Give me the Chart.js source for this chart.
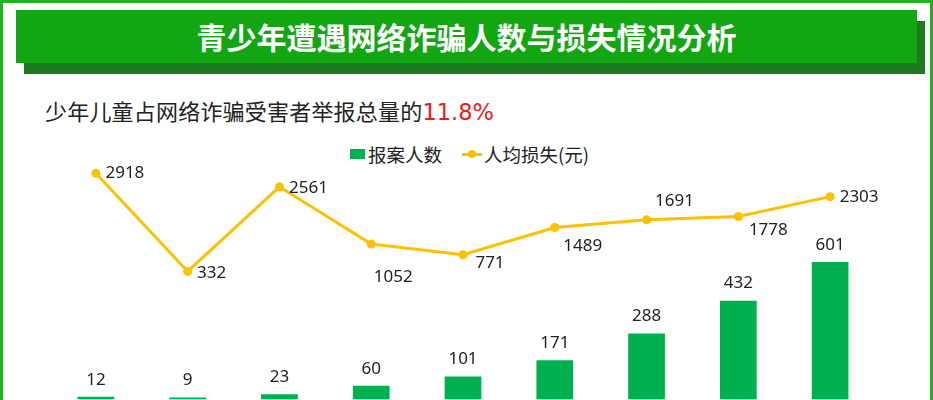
<!DOCTYPE html>
<html>
<head>
<meta charset="utf-8">
<script src="https://cdn.jsdelivr.net/npm/chart.js@4/dist/chart.umd.min.js"></script>
<style>
  body { margin: 0; width: 933px; height: 400px; overflow: hidden; position: relative; background: #fff;
         font-family: "Noto Sans CJK SC", "Noto Sans", sans-serif; }
  .frame { position: absolute; left: 0; top: 0; width: 933px; height: 600px; box-sizing: border-box;
           border: 3px solid #1fb41f; }
  .title { position: absolute; left: 16px; top: 10px; width: 901px; height: 53px; background: #12a612;
           box-shadow: 8px 11px 0 #1f7a1f; color: #fff; font-size: 30px; font-weight: bold;
           text-align: center; line-height: 53px; }
  .sub { position: absolute; left: 45px; top: 94px; font-size: 22px; line-height: 32px; color: #222;
         letter-spacing: 0.2px; }
  .sub .red { color: #f01818; font-family: "DejaVu Sans", sans-serif; font-size: 22.5px; letter-spacing: 0; }
  .legend { position: absolute; left: 350px; top: 141px; font-size: 18.5px; line-height: 26px; color: #222;
            display: flex; align-items: center; }
  .legend .box { display: inline-block; width: 15px; height: 10px; background: #00b050; margin-right: 3px; }
  .legend .ln { display: inline-block; position: relative; width: 20px; height: 3px; background: #ffc000;
                margin: 0 2px 0 20px; }
  .legend .ln::after { content: ""; position: absolute; left: 6px; top: -3px; width: 8px; height: 8px;
                       border-radius: 50%; background: #ffc000; }
  #chart { position: absolute; left: 0; top: 154px; }
</style>
</head>
<body>
<div class="frame"></div>
<div class="title">青少年遭遇网络诈骗人数与损失情况分析</div>
<div class="sub">少年儿童占网络诈骗受害者举报总量的<span class="red">11.8%</span></div>
<div class="legend"><span class="box"></span>报案人数<span class="ln"></span>人均损失(元)</div>
<canvas id="chart" width="933" height="250"></canvas>
<script>
// x-axis labels are cropped off in the reference, so the categories are just numbered
const categories = ['1', '2', '3', '4', '5', '6', '7', '8', '9'];
const reportCount = [12, 9, 23, 60, 101, 171, 288, 432, 601];
const avgLoss = [2918, 332, 2561, 1052, 771, 1489, 1691, 1778, 2303];

// where each loss label sits relative to its point (dx, dy)
const lossLabelOffset = [[29, 0], [24, 2], [29, 1], [22, 33], [27, 8], [28, 19], [28, -19], [30, 14], [29, 1]];

const valueLabels = {
    id: 'valueLabels',
    afterDatasetsDraw(chart) {
        const ctx = chart.ctx;
        ctx.save();
        ctx.font = '17px "Noto Sans", sans-serif';
        ctx.fillStyle = '#222';
        ctx.textAlign = 'center';
        ctx.textBaseline = 'middle';
        chart.getDatasetMeta(1).data.forEach(function(bar, i) {
            ctx.fillText(reportCount[i], bar.x, bar.y - 17);
        });
        chart.getDatasetMeta(0).data.forEach(function(pt, i) {
            const off = lossLabelOffset[i];
            ctx.fillText(avgLoss[i], pt.x + off[0], pt.y + off[1]);
        });
        ctx.restore();
    }
};

new Chart(document.getElementById('chart').getContext('2d'), {
    data: {
        labels: categories,
        datasets: [{
            type: 'line',
            label: '人均损失(元)',
            data: avgLoss,
            yAxisID: 'y1',
            borderColor: '#ffc000',
            borderWidth: 3,
            pointRadius: 4.5,
            pointBorderWidth: 0,
            pointBackgroundColor: '#ffc000',
            tension: 0,
            order: 0,
            clip: false
        }, {
            type: 'bar',
            label: '报案人数',
            data: reportCount,
            yAxisID: 'y',
            backgroundColor: '#00b050',
            categoryPercentage: 0.4,
            barPercentage: 1,
            order: 1
        }]
    },
    options: {
        responsive: false,
        animation: false,
        layout: { padding: { left: 50, right: 57, top: 10, bottom: 0 } },
        plugins: {
            legend: { display: false },
            tooltip: { enabled: false }
        },
        scales: {
            x: { display: false },
            y: { display: false, min: 0, max: 1029 },
            y1: { display: false, min: -3044, max: 3163 }
        }
    },
    plugins: [valueLabels]
});
</script>
</body>
</html>
